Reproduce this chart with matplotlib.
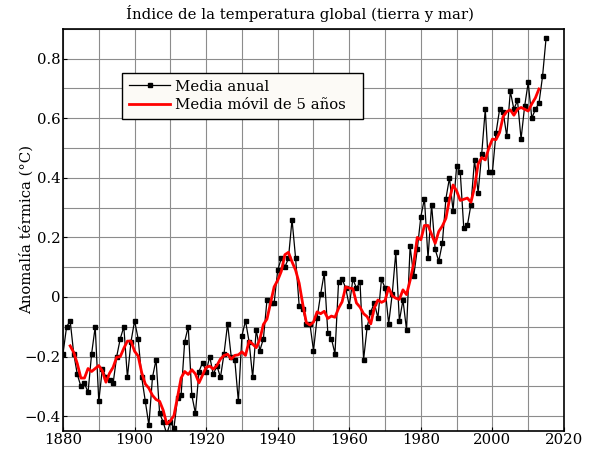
import matplotlib
matplotlib.use("Agg")
import matplotlib.pyplot as plt
from matplotlib.ticker import MultipleLocator, FixedLocator, FixedFormatter

plt.rcParams['font.family'] = ['DejaVu Serif']

years = list(range(1880, 2016))
annual = [
    -0.19, -0.10, -0.08, -0.19, -0.26, -0.30, -0.29, -0.32, -0.19, -0.10,  # 1880s
    -0.35, -0.24, -0.27, -0.28, -0.29, -0.20, -0.14, -0.10, -0.27, -0.15,  # 1890s
    -0.08, -0.14, -0.27, -0.35, -0.43, -0.27, -0.21, -0.39, -0.42, -0.46,  # 1900s
    -0.42, -0.44, -0.34, -0.33, -0.15, -0.10, -0.33, -0.39, -0.25, -0.22,  # 1910s
    -0.25, -0.20, -0.26, -0.23, -0.27, -0.19, -0.09, -0.20, -0.21, -0.35,  # 1920s
    -0.13, -0.08, -0.15, -0.27, -0.11, -0.18, -0.14, -0.01, -0.02, -0.02,  # 1930s
    0.09, 0.13, 0.10, 0.13, 0.26, 0.13, -0.03, -0.04, -0.09, -0.09,        # 1940s
    -0.18, -0.07, 0.01, 0.08, -0.12, -0.14, -0.19, 0.05, 0.06, 0.03,       # 1950s
    -0.03, 0.06, 0.03, 0.05, -0.21, -0.10, -0.05, -0.02, -0.07, 0.06,      # 1960s
    0.03, -0.09, 0.01, 0.15, -0.08, -0.01, -0.11, 0.17, 0.07, 0.16,        # 1970s
    0.27, 0.33, 0.13, 0.31, 0.16, 0.12, 0.18, 0.33, 0.40, 0.29,            # 1980s
    0.44, 0.42, 0.23, 0.24, 0.31, 0.46, 0.35, 0.48, 0.63, 0.42,            # 1990s
    0.42, 0.55, 0.63, 0.62, 0.54, 0.69, 0.63, 0.66, 0.53, 0.64,            # 2000s
    0.72, 0.60, 0.63, 0.65, 0.74, 0.87,                                    # 2010s
]

smooth_years = list(range(1882, 2014))
smooth = [
    -0.164, -0.186, -0.224, -0.272, -0.272, -0.240, -0.250, -0.240,          # 1882-1889
    -0.230, -0.248, -0.286, -0.256, -0.236, -0.202, -0.200, -0.172, -0.148, -0.148,
    -0.182, -0.198, -0.254, -0.292, -0.306, -0.330, -0.344, -0.350, -0.380, -0.426,
    -0.416, -0.398, -0.336, -0.272, -0.250, -0.260, -0.244, -0.258, -0.288, -0.262,
    -0.236, -0.232, -0.242, -0.230, -0.208, -0.196, -0.192, -0.208, -0.196, -0.194,
    -0.184, -0.196, -0.148, -0.158, -0.170, -0.142, -0.092, -0.074, -0.020, 0.034,
    0.056, 0.086, 0.142, 0.150, 0.118, 0.090, 0.046, -0.024, -0.086, -0.094,
    -0.084, -0.050, -0.056, -0.048, -0.072, -0.064, -0.068, -0.038, -0.016, 0.034,
    0.030, 0.028, -0.020, -0.034, -0.056, -0.066, -0.090, -0.036, -0.010, -0.018,
    -0.012, 0.032, 0.004, -0.004, -0.008, 0.024, 0.008, 0.056, 0.112, 0.200,
    0.192, 0.240, 0.240, 0.210, 0.180, 0.220, 0.238, 0.264, 0.328, 0.376,
    0.356, 0.324, 0.328, 0.332, 0.318, 0.368, 0.446, 0.468, 0.460, 0.500,
    0.530, 0.528, 0.552, 0.606, 0.622, 0.628, 0.610, 0.630, 0.636, 0.630,
    0.624, 0.648, 0.668, 0.698,
]

title = "Índice de la temperatura global (tierra y mar)"
ylabel = "Anomalía térmica (°C)"
label_annual = "Media anual"
label_smooth = "Media móvil de 5 años"
xticks = [1880, 1900, 1920, 1940, 1960, 1980, 2000, 2020]
yticks = [-0.4, -0.2, 0, 0.2, 0.4, 0.6, 0.8]
yticklabels = ["\u22120.4", "\u22120.2", "0", "0.2", "0.4", "0.6", "0.8"]

FS = 10.7

fig = plt.figure(figsize=(6, 4.5), dpi=100)
ax = fig.add_axes([0.105, 0.042, 0.835, 0.894])

ax.plot(years, annual, color='black', lw=0.9, marker='s', ms=3.3, mec='black',
        mfc='black', label=label_annual, zorder=3)
ax.plot(smooth_years, smooth, color='#ff0000', lw=2.0, label=label_smooth, zorder=4)

ax.set_xlim(1880, 2020)
ax.set_ylim(-0.45, 0.9)
ax.xaxis.set_major_locator(FixedLocator(xticks))
ax.xaxis.set_minor_locator(MultipleLocator(10))
ax.yaxis.set_major_locator(FixedLocator(yticks))
ax.yaxis.set_major_formatter(FixedFormatter(yticklabels))
ax.yaxis.set_minor_locator(MultipleLocator(0.1))
ax.grid(True, which='both', color='#8c8c8c', lw=0.8, zorder=0)
ax.set_axisbelow(True)
ax.tick_params(which='major', direction='in', length=3, labelsize=FS, color='black', pad=1.5)
ax.tick_params(which='minor', length=0)
for s in ax.spines.values():
    s.set_linewidth(1.2)
    s.set_color('black')

fig.text(0.5, 0.971, title, fontsize=FS, ha='center', va='center')
ax.set_ylabel(ylabel, fontsize=FS)
ax.yaxis.set_label_coords(-0.058, 0.5)

leg = ax.legend(loc='upper left', bbox_to_anchor=(0.118, 0.0, 0.481, 0.8905),
                mode='expand', fontsize=FS,
                frameon=True, fancybox=False, framealpha=1.0, edgecolor='black',
                handlelength=2.8, borderpad=0.45, labelspacing=0.3, handletextpad=0.3,
                borderaxespad=0.0)
leg.get_frame().set_facecolor('#fcfaf6')
leg.get_frame().set_linewidth(1.0)

fig.savefig("out.png", dpi=100, facecolor='white')
